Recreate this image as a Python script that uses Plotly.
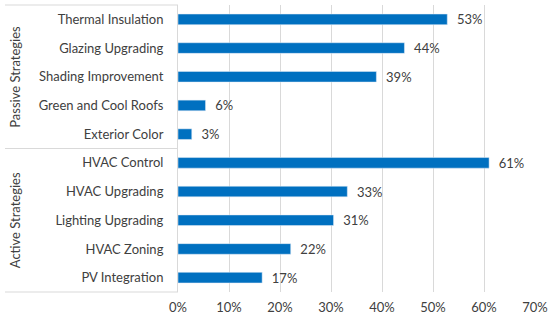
import plotly.graph_objects as go

categories = ["Thermal Insulation", "Glazing Upgrading", "Shading Improvement",
              "Green and Cool Roofs", "Exterior Color",
              "HVAC Control", "HVAC Upgrading", "Lighting Upgrading",
              "HVAC Zoning", "PV Integration"]
values = [0.528, 0.444, 0.389, 0.054, 0.027, 0.610, 0.332, 0.305, 0.221, 0.165]
value_labels = ["53%", "44%", "39%", "6%", "3%", "61%", "33%", "31%", "22%", "17%"]
groups = ["Passive Strategies", "Active Strategies"]
x_ticks = [0, 0.1, 0.2, 0.3, 0.4, 0.5, 0.6, 0.7]
x_tick_labels = ["0%", "10%", "20%", "30%", "40%", "50%", "60%", "70%"]

FONT = "Lato"
TXT = "#404040"
LINE = "#D9D9D9"

fig = go.Figure(go.Bar(
    x=values, y=categories, orientation="h",
    marker_color="#0070C0", width=0.37,
    text=value_labels, texttemplate="  %{text}", textposition="outside",
    constraintext="none", hoverinfo="skip",
    textfont=dict(family=FONT, size=13, color=TXT), cliponaxis=False,
))

L, R, T, B = 178, 15, 5, 30
W = 550 - L - R
fig.update_layout(
    width=550, height=322, margin=dict(l=L, r=R, t=T, b=B, autoexpand=False),
    paper_bgcolor="white", plot_bgcolor="white", showlegend=False,
    hovermode=False, dragmode=False,
    font=dict(family=FONT, size=13, color=TXT),
)
fig.update_xaxes(range=[0, 0.7], tickvals=x_ticks, ticktext=x_tick_labels,
                 showgrid=True, gridcolor=LINE, gridwidth=1, zeroline=False,
                 showline=False, ticks="", ticklabelstandoff=6, automargin=False,
                 tickfont=dict(family=FONT, size=13, color=TXT))
fig.update_yaxes(autorange="reversed", showgrid=False, showline=True, linecolor=LINE,
                 linewidth=1, ticks="", ticklabelstandoff=11, automargin=False,
                 tickfont=dict(family=FONT, size=13, color=TXT))

x_left = (5 - L) / W
for yv in [0, 0.5, 1]:
    fig.add_shape(type="line", xref="paper", yref="paper", x0=x_left, x1=0,
                  y0=yv, y1=yv, line=dict(color=LINE, width=1))

for i, g in enumerate(groups):
    fig.add_annotation(text=g, xref="paper", yref="paper", x=(15 - L) / W,
                       y=0.75 - 0.5 * i, textangle=-90, showarrow=False,
                       xanchor="center", yanchor="middle",
                       font=dict(family=FONT, size=13, color=TXT))

fig.write_html("out.html", config={"displayModeBar": False, "staticPlot": True},
               post_script="document.body.style.margin='0';document.body.style.overflow='hidden';")
